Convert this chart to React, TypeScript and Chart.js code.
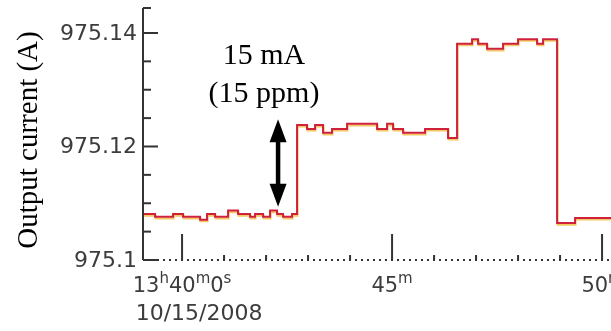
import React, { useEffect, useRef } from "react";
import { Chart, registerables } from "chart.js";

Chart.register(...registerables);

// time axis in minutes after 13h00m (10/15/2008)
const sampleMinutes = [
  39.071, 39.357, 39.786, 40.024, 40.429, 40.595, 40.786, 41.095, 41.333, 41.619,
  41.738, 41.929, 42.095, 42.262, 42.405, 42.619,
  42.738, 42.976, 43.167, 43.357, 43.571, 43.929, 44.643, 44.881, 45.024, 45.262,
  45.786, 46.333,
  46.548, 46.905, 47.048, 47.262, 47.643, 48.0, 48.452, 48.595,
  48.929, 49.357, 50.3,
];
const outputCurrentA = [
  975.1081, 975.1076, 975.1081, 975.1076, 975.1071, 975.1081, 975.1076, 975.1087, 975.1081, 975.1076,
  975.1081, 975.1076, 975.1087, 975.1081, 975.1076, 975.1081,
  975.1238, 975.1231, 975.1238, 975.1224, 975.1231, 975.124, 975.1231, 975.124, 975.1231, 975.1224,
  975.1231, 975.1215,
  975.1381, 975.1389, 975.1381, 975.1372, 975.1381, 975.1389, 975.1381, 975.1389,
  975.1065, 975.1074, 975.1074,
];

const xMin = 39.07;
const xMax = 50.213;
const yMin = 975.1;
const yMax = 975.1444;

const yMajorTicks = [975.1, 975.12, 975.14];
const yTickLabels = ["975.1", "975.12", "975.14"];
const yMinorTicks = [975.105, 975.11, 975.115, 975.125, 975.13, 975.135, yMax];

const xMajorTicks = [40, 45, 50];
const xMinorTicks = [41, 42, 43, 44, 46, 47, 48, 49];
const xMajorLabelParts: [string, string][][] = [
  [["13", "h"], ["40", "m"], ["0", "s"]],
  [["45", "m"]],
  [["50", "m"]],
];
const xDateLabel = "10/15/2008";

const yTitle = "Output current (A)";
const annotationLines = ["15 mA", "(15 ppm)"];
const arrowMinute = 42.286;
const arrowFrom = 975.1094;
const arrowTo = 975.1248;
const annotationMinute = 41.95;
const annotationBaselines = [975.1346, 975.1279];

const AXIS = "#333333";
const TEXT = "#3c3c3c";
const SANS = "'DejaVu Sans', sans-serif";
const SERIF = "'Liberation Serif', 'Times New Roman', serif";

const decorPlugin = {
  id: "decor",
  beforeDatasetDraw(chart: any, args: any) {
    if (args.index === 1) {
      chart.ctx.save();
      chart.ctx.translate(0.5, 1.6);
    }
  },
  afterDatasetDraw(chart: any, args: any) {
    if (args.index === 1) chart.ctx.restore();
  },
  afterDraw(chart: any) {
    const { ctx } = chart;
    const x = chart.scales.x;
    const y = chart.scales.y;
    const left = x.getPixelForValue(xMin);
    const right = x.getPixelForValue(xMax);
    const top = y.getPixelForValue(yMax);
    const bottom = y.getPixelForValue(yMin);
    const line = (x1: number, y1: number, x2: number, y2: number) => {
      ctx.beginPath();
      ctx.moveTo(x1, y1);
      ctx.lineTo(x2, y2);
      ctx.stroke();
    };
    ctx.save();
    ctx.strokeStyle = AXIS;
    ctx.lineWidth = 2;
    // y axis
    line(left, top, left, bottom);
    yMajorTicks.forEach((v) => {
      const py = y.getPixelForValue(v);
      line(left, py, left + 15, py);
    });
    yMinorTicks.forEach((v) => {
      const py = y.getPixelForValue(v);
      line(left, py, left + 8, py);
    });
    // y tick labels
    ctx.fillStyle = TEXT;
    ctx.font = `22px ${SANS}`;
    ctx.textAlign = "right";
    ctx.textBaseline = "middle";
    yMajorTicks.forEach((v, i) => {
      ctx.fillText(yTickLabels[i], left - 6, y.getPixelForValue(v) + 1);
    });

    // x axis (dotted)
    line(left, bottom, left + 6, bottom);
    ctx.setLineDash([2, 4]);
    line(left + 8, bottom, right, bottom);
    ctx.setLineDash([]);
    xMajorTicks.forEach((v) => {
      const px = x.getPixelForValue(v);
      line(px, bottom, px, bottom - 26);
    });
    xMinorTicks.forEach((v) => {
      const px = x.getPixelForValue(v);
      line(px, bottom, px, bottom - 5);
    });

    // x labels with superscripts
    ctx.textBaseline = "alphabetic";
    ctx.textAlign = "left";
    const mainFont = `21px ${SANS}`;
    const supFont = `15px ${SANS}`;
    let firstLeft = 0;
    xMajorTicks.forEach((v, i) => {
      const parts = xMajorLabelParts[i];
      let w = 0;
      parts.forEach(([m, s]) => {
        ctx.font = mainFont;
        w += ctx.measureText(m).width;
        ctx.font = supFont;
        w += ctx.measureText(s).width;
      });
      let cx = x.getPixelForValue(v) - w / 2;
      if (i === 0) firstLeft = cx;
      parts.forEach(([m, s]) => {
        ctx.font = mainFont;
        ctx.fillText(m, cx, bottom + 32);
        cx += ctx.measureText(m).width;
        ctx.font = supFont;
        ctx.fillText(s, cx, bottom + 23);
        cx += ctx.measureText(s).width;
      });
    });
    ctx.font = `22px ${SANS}`;
    ctx.fillText(xDateLabel, firstLeft + 3, bottom + 60);

    // y title
    ctx.save();
    ctx.fillStyle = "#000";
    ctx.font = `29px ${SERIF}`;
    ctx.textAlign = "center";
    ctx.textBaseline = "middle";
    ctx.translate(29, (top + bottom) / 2 + 6);
    ctx.rotate(-Math.PI / 2);
    ctx.fillText(yTitle, 0, 0);
    ctx.restore();

    // annotation text
    ctx.fillStyle = "#000";
    ctx.font = `30px ${SERIF}`;
    ctx.textAlign = "center";
    ctx.textBaseline = "alphabetic";
    annotationLines.forEach((t, i) => {
      ctx.fillText(t, x.getPixelForValue(annotationMinute), y.getPixelForValue(annotationBaselines[i]));
    });

    // double-headed arrow
    const ax = x.getPixelForValue(arrowMinute);
    const yTop = y.getPixelForValue(arrowTo);
    const yBot = y.getPixelForValue(arrowFrom);
    const headH = 23;
    const headW = 17;
    ctx.strokeStyle = "#000";
    ctx.lineWidth = 4.5;
    line(ax, yTop + headH - 2, ax, yBot - headH + 2);
    ctx.fillStyle = "#000";
    ctx.beginPath();
    ctx.moveTo(ax, yTop);
    ctx.lineTo(ax - headW / 2, yTop + headH);
    ctx.lineTo(ax + headW / 2, yTop + headH);
    ctx.closePath();
    ctx.fill();
    ctx.beginPath();
    ctx.moveTo(ax, yBot);
    ctx.lineTo(ax - headW / 2, yBot - headH);
    ctx.lineTo(ax + headW / 2, yBot - headH);
    ctx.closePath();
    ctx.fill();
    ctx.restore();
  },
};

export default function App() {
  const canvasRef = useRef<HTMLCanvasElement | null>(null);

  useEffect(() => {
    if (!canvasRef.current) return;
    const points = sampleMinutes.map((t, i) => ({ x: t, y: outputCurrentA[i] }));
    const chart = new Chart(canvasRef.current, {
      type: "line",
      data: {
        datasets: [
          {
            data: points,
            borderColor: "#d0213c",
            borderWidth: 2,
            pointRadius: 0,
            stepped: true,
            fill: false,
          },
          {
            data: points,
            borderColor: "rgba(238, 190, 70, 0.85)",
            borderWidth: 2,
            pointRadius: 0,
            stepped: true,
            fill: false,
          },
        ],
      },
      options: {
        animation: false,
        responsive: true,
        maintainAspectRatio: false,
        layout: { padding: { top: 8, left: 0, right: 0, bottom: 0 } },
        plugins: { legend: { display: false }, tooltip: { enabled: false } },
        scales: {
          x: {
            type: "linear",
            min: xMin,
            max: xMax,
            grid: { display: false, drawTicks: false },
            border: { display: false },
            ticks: { display: false },
            afterFit: (scale: any) => {
              scale.height = 71;
            },
          },
          y: {
            type: "linear",
            min: yMin,
            max: yMax,
            grid: { display: false, drawTicks: false },
            border: { display: false },
            ticks: { display: false },
            afterFit: (scale: any) => {
              scale.width = 143;
            },
          },
        },
      },
      plugins: [decorPlugin],
    });
    return () => chart.destroy();
  }, []);

  return (
    <div style={{ position: "absolute", left: 0, top: 0, width: 611, height: 331, background: "#fff" }}>
      <canvas ref={canvasRef} />
    </div>
  );
}
